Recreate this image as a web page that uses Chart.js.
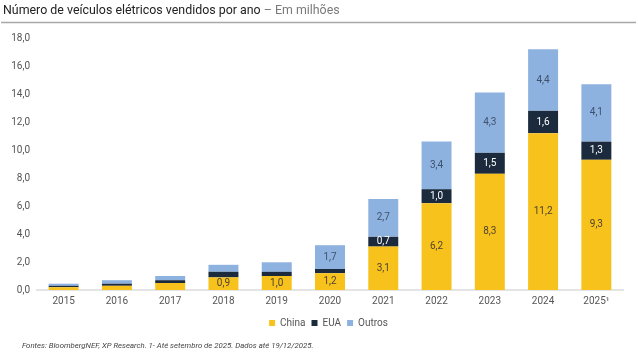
<!DOCTYPE html>
<html>
<head>
<meta charset="utf-8">
<script src="https://cdn.jsdelivr.net/npm/chart.js@4"></script>
<style>
html,body{margin:0;padding:0;background:#fff;}
#wrap{position:relative;width:638px;height:356px;}
</style>
</head>
<body>
<div id="wrap"><canvas id="c" width="638" height="356"></canvas></div>
<script>
const categories = ['2015','2016','2017','2018','2019','2020','2021','2022','2023','2024','2025¹'];
const china  = [0.2, 0.3, 0.5, 0.9, 1.0, 1.2, 3.1, 6.2, 8.3, 11.2, 9.3];
const eua    = [0.1, 0.15, 0.2, 0.4, 0.3, 0.3, 0.7, 1.0, 1.5, 1.6, 1.3];
const outros = [0.15, 0.25, 0.3, 0.5, 0.68, 1.7, 2.7, 3.4, 4.3, 4.4, 4.1];
const yTicks = [0, 2, 4, 6, 8, 10, 12, 14, 16, 18];
const LABEL_MIN = 0.7;

const titleMain = 'Número de veículos elétricos vendidos por ano';
const titleSub = ' – Em milhões';
const footer = 'Fontes: BloombergNEF, XP Research. 1- Até setembro de 2025. Dados até 19/12/2025.';

const fmt = v => v.toFixed(1).replace('.', ',');

const decor = {
  id: 'decor',
  afterLayout(chart) {
    if (chart.legend) { chart.legend.left += 17; chart.legend.right += 17; }
  },
  afterDraw(chart) {
    const ctx = chart.ctx;
    ctx.save();
    ctx.textBaseline = 'middle';
    ctx.textAlign = 'left';
    ctx.font = '12.4px Roboto';
    ctx.fillStyle = '#222';
    ctx.fillText(titleMain, 3, 11);
    const w = ctx.measureText(titleMain).width;
    ctx.fillStyle = '#7a7a7a';
    ctx.fillText(titleSub, 3 + w, 11);
    ctx.strokeStyle = '#a8a8a8';
    ctx.lineWidth = 1.5;
    ctx.beginPath();
    ctx.moveTo(1, 22.5);
    ctx.lineTo(636, 22.5);
    ctx.stroke();
    ctx.font = 'italic 7.8px Roboto';
    ctx.fillStyle = '#444';
    ctx.fillText(footer, 22, 346);
    // value labels
    const colors = ['#4d4330', '#ffffff', '#3f506b'];
    ctx.font = '10px Roboto';
    ctx.textAlign = 'center';
    chart.data.datasets.forEach((ds, di) => {
      const meta = chart.getDatasetMeta(di);
      meta.data.forEach((bar, i) => {
        const v = ds.data[i];
        if (v < LABEL_MIN) return;
        const yc = (bar.y + bar.base) / 2;
        ctx.fillStyle = colors[di];
        ctx.fillText(fmt(v), bar.x, yc);
      });
    });
    ctx.restore();
  }
};

new Chart(document.getElementById('c'), {
  type: 'bar',
  data: {
    labels: categories,
    datasets: [
      { label: 'China', data: china, backgroundColor: '#F8C21C' },
      { label: 'EUA', data: eua, backgroundColor: '#1C2A3E' },
      { label: 'Outros', data: outros, backgroundColor: '#8EB2E0' }
    ]
  },
  options: {
    responsive: false,
    animation: false,
    devicePixelRatio: 1,
    layout: { padding: { top: 38, right: 15, left: 0, bottom: 18 } },
    datasets: { bar: { barPercentage: 0.75, categoryPercentage: 0.75, borderWidth: 0 } },
    scales: {
      x: {
        stacked: true,
        grid: { display: false, drawTicks: false },
        border: { display: true, color: '#e4e4e4', width: 2 },
        ticks: { color: '#555', font: { family: 'Roboto', size: 10 }, padding: 5 }
      },
      y: {
        stacked: true,
        min: 0, max: 18,
        afterFit(scale) { scale.width = 37; },
        afterBuildTicks(scale) { scale.ticks = yTicks.map(v => ({ value: v })); },
        grid: { display: false, drawTicks: false },
        border: { display: false },
        ticks: { color: '#555', font: { family: 'Roboto', size: 10 }, padding: 7, callback: v => fmt(v) }
      }
    },
    plugins: {
      legend: {
        position: 'bottom',
        labels: { boxWidth: 6, boxHeight: 6, padding: 6, color: '#555', font: { family: 'Roboto', size: 10 } }
      },
      title: { display: false },
      tooltip: { enabled: false }
    }
  },
  plugins: [decor]
});
</script>
</body>
</html>
